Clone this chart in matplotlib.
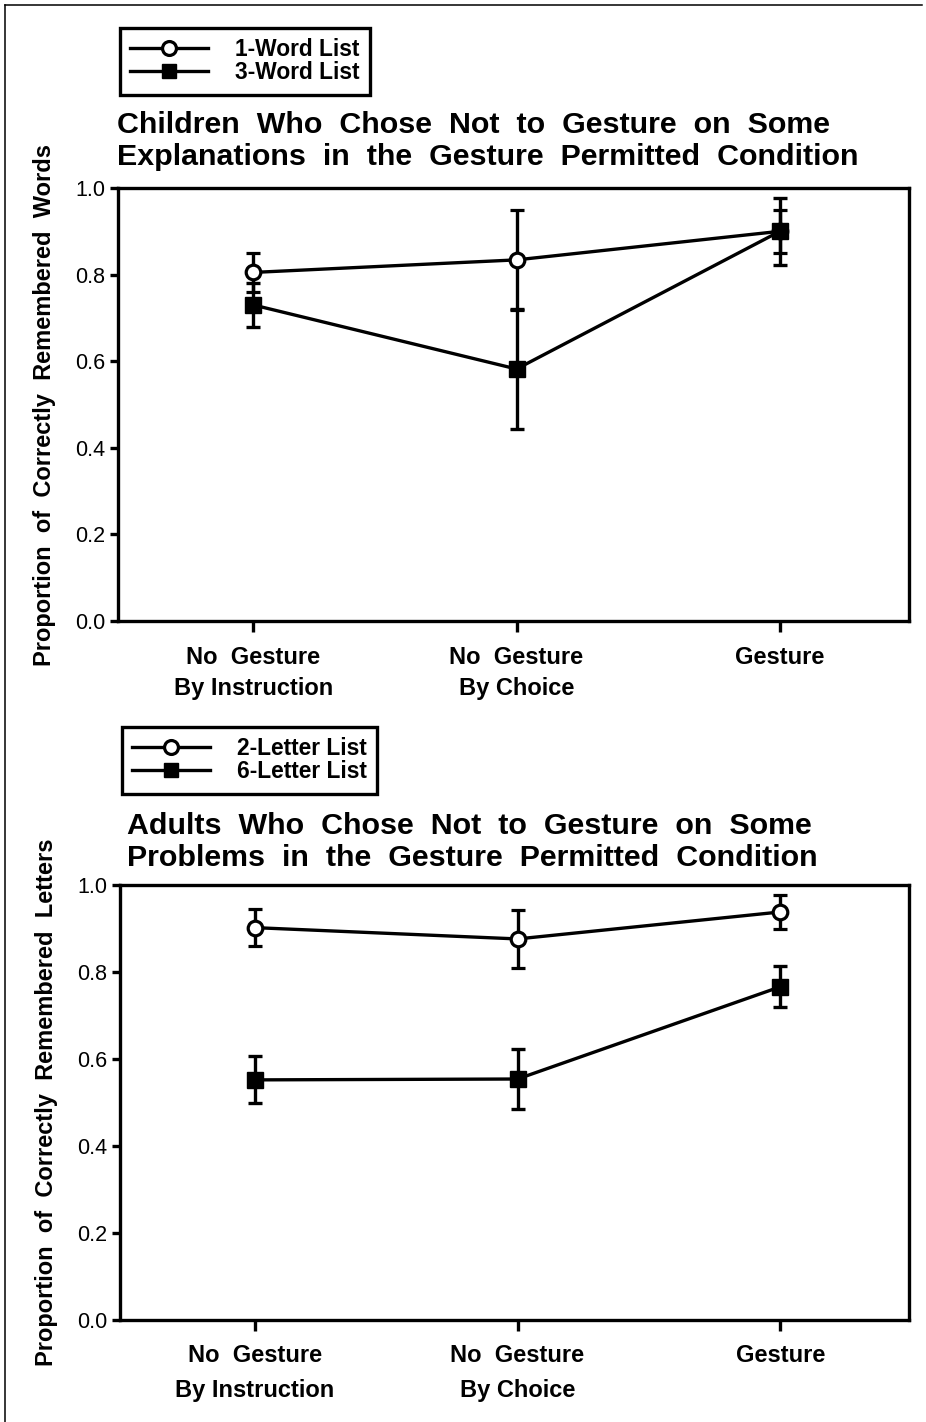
import matplotlib
matplotlib.use('Agg')
import matplotlib.pyplot as plt
from matplotlib.lines import Line2D
import numpy as np

# ============================================
#  data
conditions = ['No  Gesture\nBy Instruction', 'No  Gesture\nBy Choice', 'Gesture\n']

child_1word = [0.805, 0.834, 0.900]
child_1word_err = [0.046, 0.115, 0.050]
child_3word = [0.730, 0.582, 0.900]
child_3word_err = [0.050, 0.138, 0.078]

adult_2letter = [0.902, 0.876, 0.938]
adult_2letter_err = [0.042, 0.067, 0.038]
adult_6letter = [0.552, 0.554, 0.766]
adult_6letter_err = [0.054, 0.069, 0.047]

yticks = [0.0, 0.2, 0.4, 0.6, 0.8, 1.0]

W, H = 926, 1422
plt.rcParams['font.family'] = ['Liberation Sans', 'DejaVu Sans']
fig = plt.figure(figsize=(W / 100, H / 100), dpi=100)

# outer frame (top and left edges only)
fig.add_artist(Line2D([5 / W, 922 / W], [1 - 5 / H, 1 - 5 / H], color='k', lw=1.1, transform=fig.transFigure))
fig.add_artist(Line2D([5 / W, 5 / W], [0, 1 - 5 / H], color='k', lw=1.1, transform=fig.transFigure))


def px_axes(left, right, top, bottom):
    return fig.add_axes([left / W, 1 - bottom / H, (right - left) / W, (bottom - top) / H])


def panel(ax, a, a_err, b, b_err, ylabel, labels, title, title_xy, leg_xy, xlab_spacing, xpad):
    x = np.arange(len(conditions))
    ax.errorbar(x, a, yerr=a_err, color='k', lw=2.4, marker='o', ms=10.5, mfc='white', mec='k', mew=2.3,
                capsize=4.8, capthick=2.4, elinewidth=2.4, zorder=3)
    ax.errorbar(x, b, yerr=b_err, color='k', lw=2.4, marker='s', ms=11, mfc='k', mec='k',
                capsize=4.8, capthick=2.4, elinewidth=2.4, zorder=4)
    ax.set_xlim(-0.513, 2.49)
    ax.set_ylim(0, 1)
    ax.set_yticks(yticks)
    ax.set_yticklabels(['%.1f' % t for t in yticks], fontsize=15.5)
    ax.set_xticks(x)
    ax.set_xticklabels(conditions, fontsize=17, fontweight='bold', linespacing=xlab_spacing)
    for s in ax.spines.values():
        s.set_linewidth(2.4)
    ax.tick_params(axis='y', direction='out', length=6, width=2.4, pad=3)
    ax.tick_params(axis='x', direction='out', length=8, width=2.4, pad=xpad)
    ax.set_ylabel(ylabel, fontsize=17, fontweight='bold', labelpad=14)
    fig.text(title_xy[0] / W, 1 - title_xy[1] / H, title, fontsize=21.9, fontweight='bold',
             ha='left', va='center', linespacing=1.22)
    handles = [Line2D([], [], color='k', lw=2.4, marker='o', ms=10, mfc='white', mec='k', mew=2.3),
               Line2D([], [], color='k', lw=2.4, marker='s', ms=10.5, mfc='k', mec='k')]
    leg = ax.legend(handles, labels, loc='upper left', bbox_to_anchor=(leg_xy[0] / W, 1 - leg_xy[1] / H),
                    bbox_transform=fig.transFigure, fancybox=False, edgecolor='k', framealpha=1,
                    prop={'size': 16.4, 'weight': 'bold'}, handlelength=3.4, handletextpad=1.2,
                    labelspacing=0.0, borderpad=0.45, borderaxespad=0, numpoints=1)
    leg.get_frame().set_linewidth(2.4)


ax1 = px_axes(118, 909, 188, 621)
panel(ax1, child_1word, child_1word_err, child_3word, child_3word_err,
      'Proportion  of  Correctly  Remembered  Words', ['1-Word List', '3-Word List'],
      'Children  Who  Chose  Not  to  Gesture  on  Some\nExplanations  in  the  Gesture  Permitted  Condition',
      (117, 141), (120, 28), 1.42, 10)

ax2 = px_axes(120, 909, 885, 1320)
panel(ax2, adult_2letter, adult_2letter_err, adult_6letter, adult_6letter_err,
      'Proportion  of  Correctly  Remembered  Letters', ['2-Letter List', '6-Letter List'],
      'Adults  Who  Chose  Not  to  Gesture  on  Some\nProblems  in  the  Gesture  Permitted  Condition',
      (127, 842), (122, 727), 1.7, 9)

fig.savefig('out.png', dpi=100)
